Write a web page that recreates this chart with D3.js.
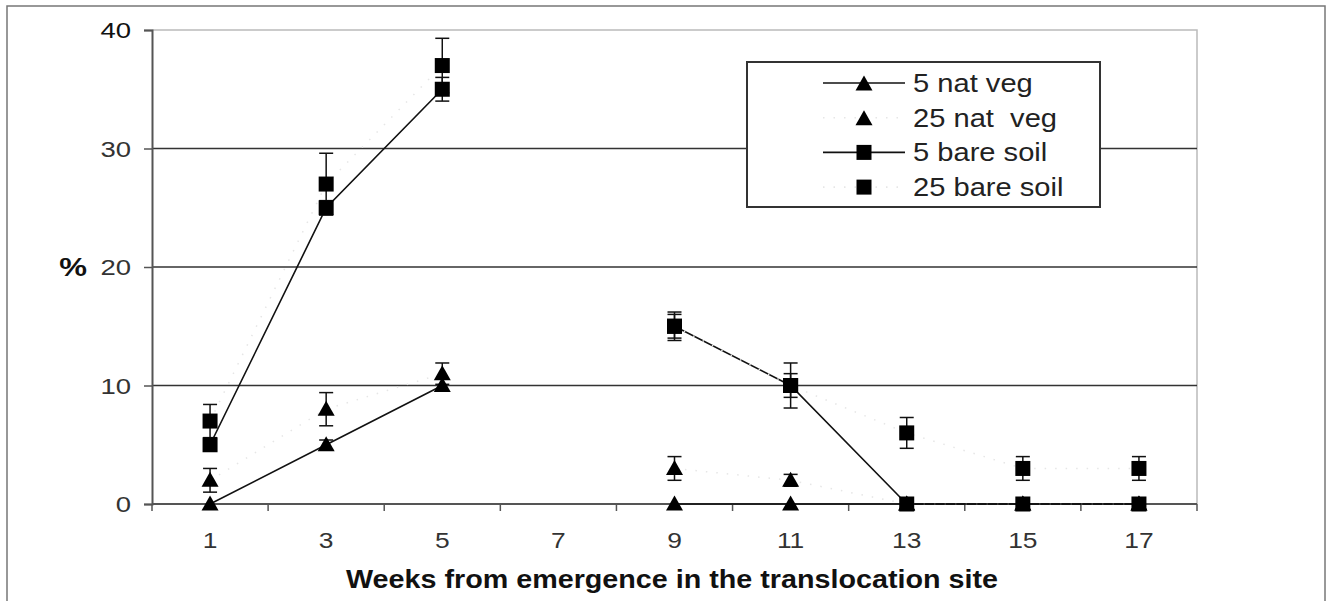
<!DOCTYPE html>
<html>
<head>
<meta charset="utf-8">
<script src="https://cdnjs.cloudflare.com/ajax/libs/d3/7.8.5/d3.min.js"></script>
<style>
  body { margin: 0; background: #fff; }
  text { font-family: "Liberation Sans", Arial, sans-serif; white-space: pre; }
</style>
</head>
<body>
<script>
// weeks on the category axis (week 7 has no data)
const weeks = ["1", "3", "5", "7", "9", "11", "13", "15", "17"]

const natVeg5     = [0, 5, 10, null, 0, 0, 0, 0, 0]
const natVeg5Err  = [0, 0.4, 0, null, 0, 0, 0, 0, 0]
const natVeg25    = [2, 8, 11, null, 3, 2, 0, 0, 0]
const natVeg25Err = [1, 1.4, 0.9, null, 1, 0.5, 0, 0, 0]
const bare5       = [5, 25, 35, null, 15, 10, 0, 0, 0]
const bare5Err    = [0.5, 0.6, 1.0, null, 1.0, 1.0, 0, 0, 0]
const bare25      = [7, 27, 37, null, 15, 10, 6, 3, 3]
const bare25Err   = [1.4, 2.6, 2.3, null, 1.2, 1.9, 1.3, 1, 1]

const yTicks = [0, 10, 20, 30, 40]
const seriesNames = ["5 nat veg", "25 nat  veg", "5 bare soil", "25 bare soil"]

const series = [
    {name: seriesNames[0], vals: natVeg5,  err: natVeg5Err,  sym: "tri", line: "solid"},
    {name: seriesNames[1], vals: natVeg25, err: natVeg25Err, sym: "tri", line: "dot"},
    {name: seriesNames[2], vals: bare5,    err: bare5Err,    sym: "sq",  line: "solid"},
    {name: seriesNames[3], vals: bare25,   err: bare25Err,   sym: "sq",  line: "dot"},
]

const W = 1327, H = 601
const svg = d3.select("body").append("svg").attr("width", W).attr("height", H)

// outer frame
svg.append("rect").attr("x", 7).attr("y", 6).attr("width", 1318).attr("height", 640)
    .attr("fill", "none").attr("stroke", "#777").attr("stroke-width", 1.5)

const xb = d3.scaleBand().domain(weeks).range([152, 1197])
const xc = d => xb(d) + xb.bandwidth() / 2
const y = d3.scaleLinear().domain([0, 40]).range([504, 30])

// text stretched horizontally like the original
function label(g, x, yy, txt, anchor, size, sx, weight, fill) {
    return g.append("text")
        .attr("transform", `translate(${x},${yy}) scale(${sx},1)`)
        .attr("text-anchor", anchor)
        .attr("font-size", size)
        .attr("font-weight", weight || "normal")
        .attr("fill", fill || "#333")
        .text(txt)
}

// plot border (top + right, light)
svg.append("path")
    .attr("d", `M152,${y(40)}H1197V${y(0)}`)
    .attr("fill", "none").attr("stroke", "#bbb").attr("stroke-width", 1.5)

// gridlines
svg.append("g").selectAll("line")
    .data(yTicks.filter(t => t > 0 && t < 40))
    .join("line")
    .attr("x1", 152).attr("x2", 1197)
    .attr("y1", d => y(d)).attr("y2", d => y(d))
    .attr("stroke", "#333").attr("stroke-width", 1.5)

// y axis
const yAxis = svg.append("g").attr("transform", "translate(152,0)")
    .call(d3.axisLeft(y).tickValues(yTicks).tickSize(8).tickFormat(""))
yAxis.select(".domain").attr("stroke", "#555").attr("stroke-width", 2)
yAxis.selectAll(".tick line").attr("stroke", "#555").attr("stroke-width", 1.5)
yTicks.forEach(t => label(svg, 131, y(t) + 8, t, "end", 22, 1.25, "normal", t === 40 ? "#111" : "#333"))
label(svg, 73, y(20) + 9, "%", "middle", 26, 1.2, "bold", "#111")

// x axis
svg.append("line").attr("x1", 152).attr("x2", 1197).attr("y1", y(0)).attr("y2", y(0))
    .attr("stroke", "#555").attr("stroke-width", 2)
svg.append("g").selectAll("line")
    .data(weeks.map(w => xb(w)).concat([1197]))
    .join("line")
    .attr("x1", d => d).attr("x2", d => d)
    .attr("y1", y(0)).attr("y2", y(0) + 7)
    .attr("stroke", "#555").attr("stroke-width", 1.5)
weeks.forEach(w => label(svg, xc(w), 548, w, "middle", 22, 1.2, "normal"))

svg.append("text")
    .attr("x", 346).attr("y", 588)
    .attr("font-size", 25).attr("font-weight", "bold").attr("fill", "#111")
    .attr("textLength", 652).attr("lengthAdjust", "spacingAndGlyphs")
    .text("Weeks from emergence in the translocation site")

function drawMarker(g, sym, cx, cy) {
    if (sym === "sq") {
        g.append("rect").attr("x", cx - 7.5).attr("y", cy - 7.5)
            .attr("width", 15).attr("height", 15).attr("fill", "#000")
    } else {
        g.append("path")
            .attr("d", `M${cx},${cy - 8.5}L${cx + 8.5},${cy + 6.5}L${cx - 8.5},${cy + 6.5}Z`)
            .attr("fill", "#000")
    }
}

const plot = svg.append("g")

// lines (25 cm series have a very faint dotted line)
series.forEach(s => {
    const line = d3.line()
        .defined(d => d.v !== null)
        .x(d => xc(d.w))
        .y(d => y(d.v))
    const pts = weeks.map((w, i) => ({w, v: s.vals[i]}))
    plot.append("path")
        .attr("d", line(pts))
        .attr("fill", "none")
        .attr("stroke", s.line === "solid" ? "#111" : "#e6e6e6")
        .attr("stroke-width", s.line === "solid" ? 1.6 : 1.5)
        .attr("stroke-dasharray", s.line === "solid" ? null : "1.5,9")
})

// error bars
series.forEach(s => {
    weeks.forEach((w, i) => {
        const v = s.vals[i], e = s.err[i]
        if (v === null || !e) return
        const cx = xc(w)
        const g = plot.append("g").attr("stroke", "#111").attr("stroke-width", 1.5)
        g.append("line").attr("x1", cx).attr("x2", cx).attr("y1", y(v - e)).attr("y2", y(v + e))
        g.append("line").attr("x1", cx - 7).attr("x2", cx + 7).attr("y1", y(v + e)).attr("y2", y(v + e))
        g.append("line").attr("x1", cx - 7).attr("x2", cx + 7).attr("y1", y(v - e)).attr("y2", y(v - e))
    })
})

// markers
series.forEach(s => {
    weeks.forEach((w, i) => {
        if (s.vals[i] === null) return
        drawMarker(plot, s.sym, xc(w), y(s.vals[i]))
    })
})

// legend
const lg = svg.append("g")
lg.append("rect").attr("x", 747).attr("y", 62).attr("width", 353).attr("height", 145)
    .attr("fill", "#fff").attr("stroke", "#333").attr("stroke-width", 2)
series.forEach((s, i) => {
    const ly = 83 + i * 34.7
    lg.append("line").attr("x1", 823).attr("x2", 905).attr("y1", ly).attr("y2", ly)
        .attr("stroke", s.line === "solid" ? "#111" : "#e6e6e6")
        .attr("stroke-width", 1.6)
        .attr("stroke-dasharray", s.line === "solid" ? null : "1.5,9")
    drawMarker(lg, s.sym, 864, ly + (s.sym === "tri" ? 1 : 0))
    label(lg, 913, ly + 9, s.name, "start", 26, 1.12, "normal", "#222")
})
</script>
</body>
</html>
